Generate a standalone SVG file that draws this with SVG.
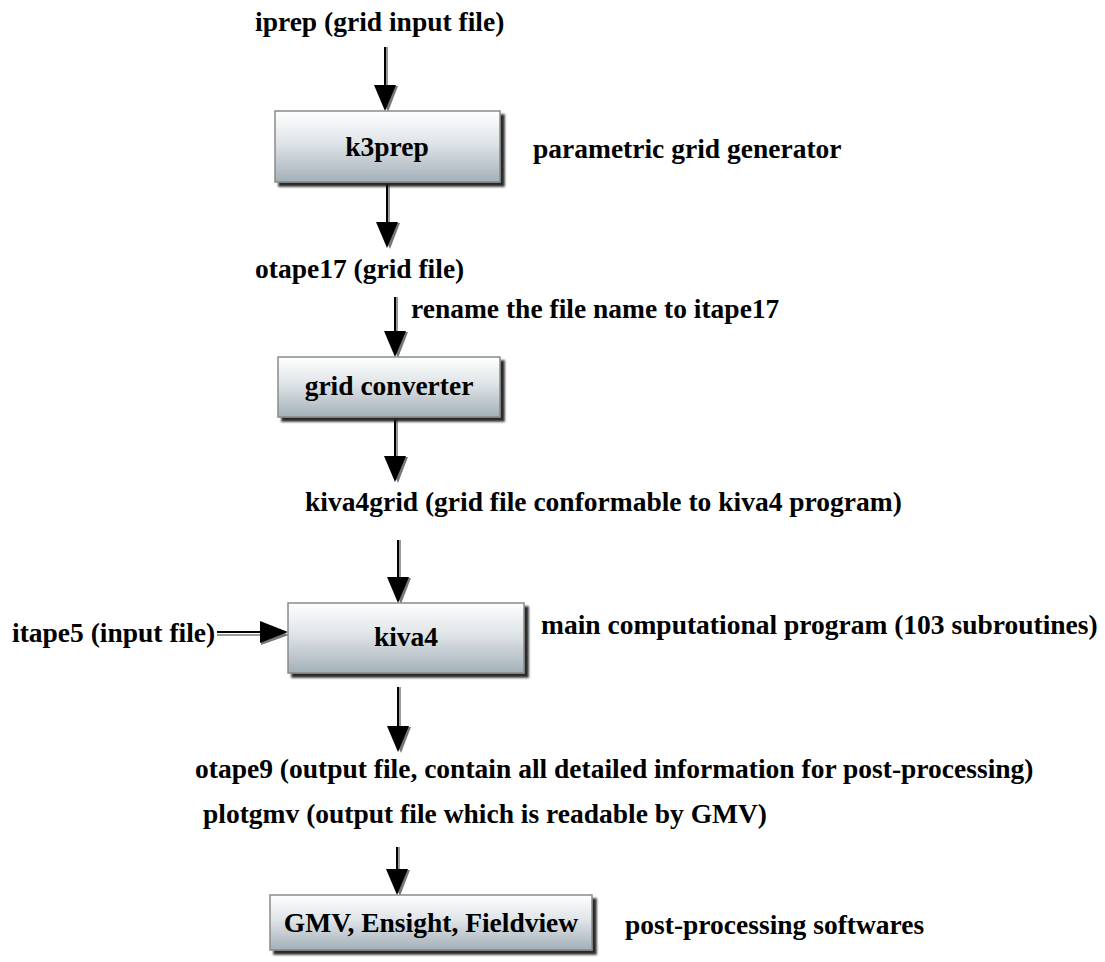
<svg xmlns="http://www.w3.org/2000/svg" width="1105" height="962" viewBox="0 0 1105 962">
<defs>
<linearGradient id="boxg" x1="0" y1="0" x2="0" y2="1">
<stop offset="0" stop-color="#ffffff"/>
<stop offset="0.45" stop-color="#dfe4e7"/>
<stop offset="1" stop-color="#a3b0b8"/>
</linearGradient>
<filter id="sh" x="-10%" y="-10%" width="130%" height="140%">
<feDropShadow dx="4" dy="4" stdDeviation="1.2" flood-color="#1a1a1a" flood-opacity="0.95"/>
</filter>
</defs>
<style>
text{font-family:"Liberation Serif","Times New Roman",serif;font-weight:bold;font-size:27.5px;fill:#000}
.box{fill:url(#boxg);stroke:#8a8a8a;stroke-width:1.5;filter:url(#sh)}
.sh{stroke:#000;stroke-width:2}
.sg{stroke:#9a9a9a;stroke-width:2}
.hd{fill:#000}
.hs{fill:#777}
.c{text-anchor:middle}
</style>
<g id="connectors">
<line class="sg" x1="387" y1="47" x2="387" y2="88"/><line class="sh" x1="385" y1="47" x2="385" y2="88"/>
<polygon class="hs" points="376,86 398,86 388,112"/><polygon class="hd" points="374,85 396,85 385,111"/>
<line class="sg" x1="389" y1="184" x2="389" y2="224"/><line class="sh" x1="387" y1="184" x2="387" y2="224"/>
<polygon class="hs" points="378,223 400,223 390,249"/><polygon class="hd" points="376,222 398,222 387,248"/>
<line class="sg" x1="397" y1="297" x2="397" y2="334"/><line class="sh" x1="395" y1="297" x2="395" y2="334"/>
<polygon class="hs" points="386,332 408,332 398,358"/><polygon class="hd" points="384,331 406,331 395,357"/>
<line class="sg" x1="397" y1="419" x2="397" y2="458"/><line class="sh" x1="395" y1="419" x2="395" y2="458"/>
<polygon class="hs" points="386,457 408,457 398,483"/><polygon class="hd" points="384,456 406,456 395,482"/>
<line class="sg" x1="400" y1="540" x2="400" y2="580"/><line class="sh" x1="398" y1="540" x2="398" y2="580"/>
<polygon class="hs" points="389,578 411,578 401,604"/><polygon class="hd" points="387,577 409,577 398,603"/>
<line class="sg" x1="217" y1="635" x2="262" y2="635"/><line class="sh" x1="217" y1="632" x2="262" y2="632"/>
<polygon class="hs" points="261,623 261,645 289,635"/><polygon class="hd" points="260,621 260,643 288,632"/>
<line class="sg" x1="400" y1="687" x2="400" y2="728"/><line class="sh" x1="398" y1="687" x2="398" y2="728"/>
<polygon class="hs" points="389,727 411,727 401,753"/><polygon class="hd" points="387,726 409,726 398,752"/>
<line class="sg" x1="399" y1="847" x2="399" y2="871"/><line class="sh" x1="397" y1="847" x2="397" y2="871"/>
<polygon class="hs" points="388,870 410,870 400,896"/><polygon class="hd" points="386,869 408,869 397,895"/>
</g>
<g id="iprep"><text x="255" y="31">iprep (grid input file)</text></g>
<g id="k3prep"><rect class="box" x="275" y="111" width="225" height="71"/><text class="c" x="387" y="156">k3prep</text></g>
<g id="k3prep-label"><text x="533" y="158">parametric grid generator</text></g>
<g id="otape17"><text x="255" y="278">otape17 (grid file)</text></g>
<g id="rename-label"><text x="411" y="318">rename the file name to itape17</text></g>
<g id="gridconverter"><rect class="box" x="278" y="357" width="222" height="60"/><text class="c" x="389" y="395">grid converter</text></g>
<g id="kiva4grid"><text x="305" y="511">kiva4grid (grid file conformable to kiva4 program)</text></g>
<g id="itape5"><text x="12" y="642">itape5 (input file)</text></g>
<g id="kiva4"><rect class="box" x="288" y="603" width="236" height="70"/><text class="c" x="406" y="646">kiva4</text></g>
<g id="kiva4-label"><text x="541" y="634">main computational program (103 subroutines)</text></g>
<g id="otape9"><text x="195" y="778">otape9 (output file, contain all detailed information for post-processing)</text></g>
<g id="plotgmv"><text x="203" y="823">plotgmv (output file which is readable by GMV)</text></g>
<g id="gmv"><rect class="box" x="270" y="895" width="322" height="55"/><text class="c" x="431" y="932">GMV, Ensight, Fieldview</text></g>
<g id="gmv-label"><text x="625" y="934">post-processing softwares</text></g>
</svg>
